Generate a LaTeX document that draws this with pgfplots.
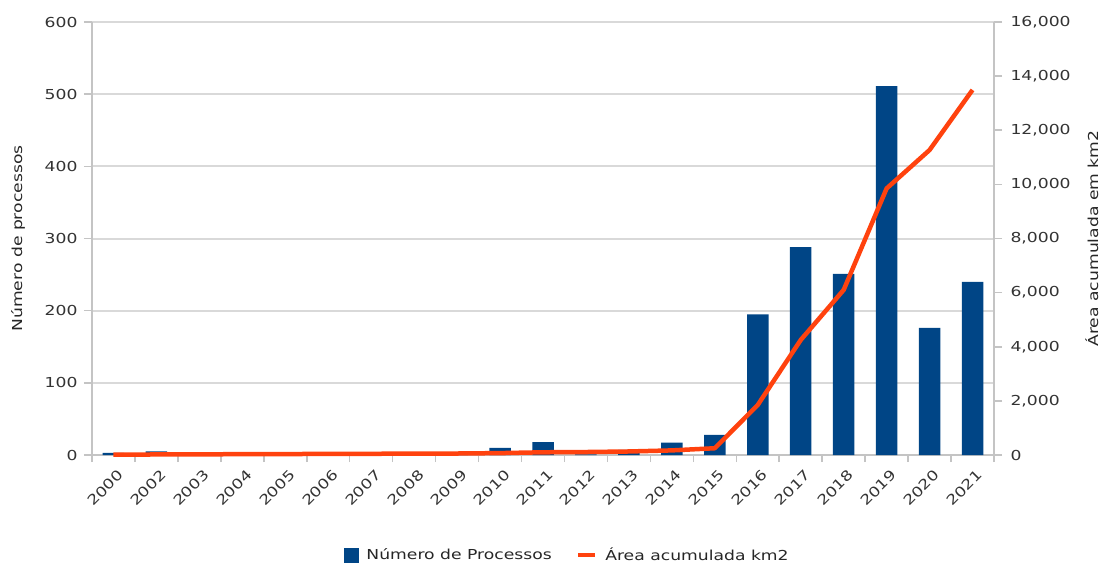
\documentclass[border=0pt]{standalone}
\usepackage{pgfplots}
\pgfplotsset{compat=1.18}
\usepackage{pgfplotstable}
\usepackage{fontspec}
\setmainfont{DejaVu Sans}[FakeStretch=1.25]

\definecolor{barblue}{HTML}{004586}
\definecolor{lineorange}{HTML}{FF420E}
\definecolor{gridgray}{HTML}{D9D9D9}
\definecolor{axisgray}{HTML}{C4C4C4}
\definecolor{textgray}{HTML}{333333}

% year index, number of processes, accumulated area (km2)
\pgfplotstableread{
x year proc area
0  2000 3   10
1  2002 5   20
2  2003 0   25
3  2004 0   30
4  2005 0   35
5  2006 0   40
6  2007 0   45
7  2008 0   50
8  2009 0   55
9  2010 10  70
10 2011 18  100
11 2012 1   110
12 2013 7   130
13 2014 17  170
14 2015 28  250
15 2016 195 1850
16 2017 288 4250
17 2018 251 6100
18 2019 511 9850
19 2020 176 11270
20 2021 240 13490
}\datatable

\pgfplotsset{
  common/.style={
    scale only axis, width=902bp, height=433bp,
    at={(0,0)}, anchor=south west,
    xmin=-0.5, xmax=20.5,
    font=\fontsize{13.8}{16}\selectfont,
    /pgf/number format/assume math mode=true,
    ticklabel style={text=textgray},
    label style={text=black!85},
    axis line style={-, axisgray, line width=2bp},
    tick style={axisgray, line width=1.5bp},
    tick align=outside,
    major tick length=8bp,
    scaled y ticks=false,
  }
}

\begin{document}
\begin{tikzpicture}
\path[use as bounding box] (-92bp,-113bp) rectangle (1013bp,455bp);

% bars: number of processes (left axis)
\begin{axis}[common,
  ymin=0, ymax=600, ytick={0,100,...,600},
  ymajorgrids, grid style={gridgray, line width=2bp},
  axis x line*=bottom, axis y line*=left,
  xtick={0,...,20},
  xticklabels={2000,2002,2003,2004,2005,2006,2007,2008,2009,2010,2011,2012,2013,2014,2015,2016,2017,2018,2019,2020,2021},
  major x tick style={draw=none},
  minor xtick={-0.5,0.5,...,20.5},
  minor tick length=7bp,
  minor x tick style={axisgray, line width=1.5bp},
  x tick label style={rotate=45, anchor=north east, xshift=2bp, yshift=-3bp},
  y tick label style={xshift=-3bp},
  ylabel={Número de processos},
  ylabel style={at={(axis description cs:-0.082,0.5)}, anchor=center},
]
\addplot[ybar, bar width=21.5bp, fill=barblue, draw=none] table[x=x, y=proc] {\datatable};
\end{axis}

% line: accumulated area (right axis)
\begin{axis}[common,
  ymin=0, ymax=16000, ytick={0,2000,...,16000},
  /pgf/number format/1000 sep={,},
  axis y line*=right, axis x line=none,
  y tick label style={xshift=5bp},
  clip=false,
  ylabel={Área acumulada em km2},
  ylabel style={at={(axis description cs:1.1086,0.5)}, anchor=center},
  legend columns=2,
  legend style={draw=none, fill=none, at={(axis description cs:0.527,-0.231)}, anchor=center,
    font=\fontsize{13.8}{16}\selectfont, text=black!85,
    /tikz/every odd column/.append style={column sep=6bp},
    /tikz/every even column/.append style={column sep=22bp}},
]
\addlegendimage{legend image code/.code={\fill[barblue] (0bp,-7bp) rectangle (14bp,7bp);}}
\addlegendentry{Número de Processos}
\addplot[lineorange, line width=4.5bp, line join=round] table[x=x, y=area] {\datatable};
\addlegendentry{Área acumulada km2}
\end{axis}
\end{tikzpicture}
\end{document}
